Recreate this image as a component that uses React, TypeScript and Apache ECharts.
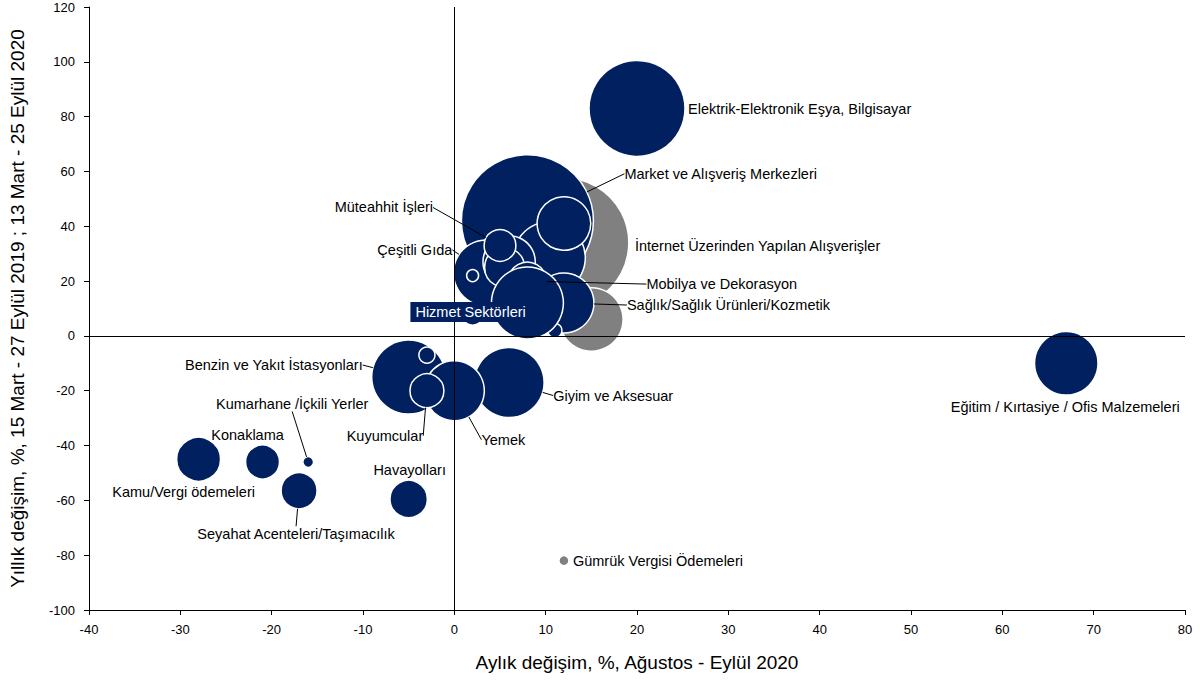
import React, { useEffect, useRef } from "react";
import * as echarts from "echarts";

// ---- Data ----
// Navy bubbles (sector spending), drawn in this order
const navyNames = [
  "Elektrik-Elektronik Eşya, Bilgisayar",
  "Eğitim / Kırtasiye / Ofis Malzemeleri",
  "Market ve Alışveriş Merkezleri",
  "",
  "",
  "Çeşitli Gıda",
  "",
  "",
  "",
  "Müteahhit İşleri",
  "Mobilya ve Dekorasyon",
  "Sağlık/Sağlık Ürünleri/Kozmetik",
  "",
  "",
  "Hizmet Sektörleri",
  "Giyim ve Aksesuar",
  "Benzin ve Yakıt İstasyonları",
  "",
  "Yemek",
  "Kuyumcular",
  "Kamu/Vergi ödemeleri",
  "Konaklama",
  "Kumarhane /İçkili Yerler",
  "Seyahat Acenteleri/Taşımacılık",
  "Havayolları",
];
const navyX = [20, 67, 8, 10.4, 12, 3.5, 2, 6, 5.5, 5, 8, 12, 11, 8, 2, 6, -5, -3, 0, -3, -28, -21, -16, -17, -5];
const navyY = [83, -10, 42, 28.5, 41, 23, 22, 27, 25, 33, 20, 12, 2, 12, 8, -17, -15, -7, -20, -20, -45, -46, -46, -56.5, -59.5];
const navyWeight = [64, 28, 121, 36, 20, 30, 1, 19, 11, 7, 10, 25, 1.4, 36, 3.4, 34, 38, 1.8, 25, 8, 13.4, 8, 0.8, 9, 9.7];

// Grey bubbles
const greyNames = ["İnternet Üzerinden Yapılan Alışverişler", "", "Gümrük Vergisi Ödemeleri"];
const greyX = [12, 15, 12];
const greyY = [34, 6, -82];
const greyWeight = [117, 28, 0.7];

// Axes
const xMin = -40, xMax = 80, xStep = 10;
const yMin = -100, yMax = 120, yStep = 20;
const xAxisTitle = "Aylık değişim, %, Ağustos - Eylül 2020";
const yAxisTitle = "Yıllık değişim, %, 15 Mart - 27 Eylül 2019 ; 13 Mart - 25 Eylül 2020";

// ---- Label placement (pixel offsets from bubble centre), styling only ----
type Place = [number, number, "left" | "center" | "right", boolean];
const labelPlacement: Record<string, Place> = {
  "Elektrik-Elektronik Eşya, Bilgisayar": [51, 1, "left", false],
  "Eğitim / Kırtasiye / Ofis Malzemeleri": [-1, 44, "center", false],
  "Market ve Alışveriş Merkezleri": [97, -47, "left", true],
  "İnternet Üzerinden Yapılan Alışverişler": [71, 3, "left", false],
  "Müteahhit İşleri": [-67, -38, "right", true],
  "Çeşitli Gıda": [-34, -23, "right", true],
  "Mobilya ve Dekorasyon": [119, 3, "left", true],
  "Sağlık/Sağlık Ürünleri/Kozmetik": [63, 2, "left", true],
  "Hizmet Sektörleri": [-2, -2, "center", false],
  "Benzin ve Yakıt İstasyonları": [-46, -12, "right", true],
  "Kumarhane /İçkili Yerler": [-16, -58, "center", true],
  "Konaklama": [-15, -27, "center", false],
  "Kuyumcular": [-42, 45, "center", true],
  "Yemek": [49, 49, "center", true],
  "Giyim ve Aksesuar": [44, 13, "left", true],
  "Havayolları": [1, -29, "center", false],
  "Kamu/Vergi ödemeleri": [-15, 33, "center", false],
  "Seyahat Acenteleri/Taşımacılık": [-3, 43, "center", true],
  "Gümrük Vergisi Ödemeleri": [9, 0, "left", false],
};

const NAVY = "#002060";
const GREY = "#808080";
const FONT = 'Arial, "Liberation Sans", sans-serif';

function buildData(names: string[], xs: number[], ys: number[], ws: number[], withLabels: boolean) {
  return names.map((n, i) => {
    const pl = labelPlacement[n];
    const item: any = {
      name: n,
      value: [xs[i], ys[i], ws[i]],
    };
    if (withLabels) {
      item.label = { show: !!pl };
      item.labelLine = { show: pl ? pl[3] : false };
      if (n === "Hizmet Sektörleri") {
        item.label = {
          show: true,
          color: "#ffffff",
          opacity: 1,
          backgroundColor: NAVY,
          padding: [3, 5, 2, 5],
        };
      }
    }
    return item;
  });
}

export default function App() {
  const ref = useRef<HTMLDivElement>(null);

  useEffect(() => {
    if (!ref.current) return;
    const chart = echarts.init(ref.current, undefined, { renderer: "svg" });

    const seriesNames = [greyNames, navyNames, greyNames, navyNames];
    const labelLayout = (p: any) => {
      const names = seriesNames[p.seriesIndex];
      const n = names ? names[p.dataIndex] : "";
      const pl = labelPlacement[n];
      if (!pl) return {};
      const cx = p.rect.x + p.rect.width / 2;
      const cy = p.rect.y + p.rect.height / 2;
      return { x: cx + pl[0], y: cy + pl[1], align: pl[2], verticalAlign: "middle" };
    };

    const sizeOf = (v: number[]) => 12 * Math.sqrt(v[2]);

    const bubbles = {
      type: "scatter",
      symbol: "circle",
      symbolSize: sizeOf,
      z: 2,
      label: { show: false },
      emphasis: { disabled: true },
      silent: true,
    };

    // Overlay with invisible symbols carrying the labels and leader lines, above all bubbles
    const overlay = {
      type: "scatter",
      symbol: "circle",
      symbolSize: sizeOf,
      z: 4,
      itemStyle: { color: "rgba(255,255,255,0)", borderWidth: 0, opacity: 1 },
      label: {
        show: true,
        formatter: "{b}",
        color: "#000",
        opacity: 1,
        fontSize: 14.5,
        fontFamily: FONT,
      },
      labelLine: {
        show: true,
        length2: 0,
        smooth: false,
        lineStyle: { color: "#000", width: 1, opacity: 1 },
      },
      labelLayout,
      emphasis: { disabled: true },
      silent: true,
    };

    chart.setOption({
      animation: false,
      backgroundColor: "#ffffff",
      grid: { left: 88, right: 15, top: 7, bottom: 72, containLabel: false },
      xAxis: {
        type: "value",
        min: xMin,
        max: xMax,
        interval: xStep,
        name: xAxisTitle,
        nameLocation: "middle",
        nameGap: 43,
        nameTextStyle: { fontSize: 19, color: "#000", fontFamily: FONT },
        axisLine: { onZero: false, lineStyle: { color: "#000", width: 1 } },
        axisTick: { show: true, length: 5, inside: false, lineStyle: { color: "#000" } },
        axisLabel: { fontSize: 13, color: "#000", fontFamily: FONT, margin: 13 },
        splitLine: { show: false },
      },
      yAxis: {
        type: "value",
        min: yMin,
        max: yMax,
        interval: yStep,
        name: yAxisTitle,
        nameLocation: "middle",
        nameGap: 62,
        nameTextStyle: { fontSize: 19, color: "#000", fontFamily: FONT },
        axisLine: { show: true, onZero: false, lineStyle: { color: "#000", width: 1 } },
        axisTick: { show: true, length: 5, inside: false, lineStyle: { color: "#000" } },
        axisLabel: { fontSize: 13, color: "#000", fontFamily: FONT, margin: 14 },
        splitLine: { show: false },
      },
      series: [
        {
          ...bubbles,
          name: "grey",
          itemStyle: { color: GREY, borderColor: "#ffffff", borderWidth: 1.5, opacity: 1 },
          data: buildData(greyNames, greyX, greyY, greyWeight, false),
        },
        {
          ...bubbles,
          name: "navy",
          itemStyle: { color: NAVY, borderColor: "#ffffff", borderWidth: 1.5, opacity: 1 },
          data: buildData(navyNames, navyX, navyY, navyWeight, false),
          markLine: {
            silent: true,
            symbol: "none",
            z: 3,
            label: { show: false },
            lineStyle: { color: "#000", width: 1, type: "solid" },
            emphasis: { disabled: true },
            data: [{ xAxis: 0 }, { yAxis: 0 }],
          },
        },
        {
          ...overlay,
          name: "grey-labels",
          data: buildData(greyNames, greyX, greyY, greyWeight, true),
        },
        {
          ...overlay,
          name: "navy-labels",
          data: buildData(navyNames, navyX, navyY, navyWeight, true),
        },
      ],
    });

    return () => chart.dispose();
  }, []);

  return (
    <div
      ref={ref}
      style={{ position: "fixed", left: 0, top: 0, width: 1200, height: 682, background: "#fff" }}
    />
  );
}
